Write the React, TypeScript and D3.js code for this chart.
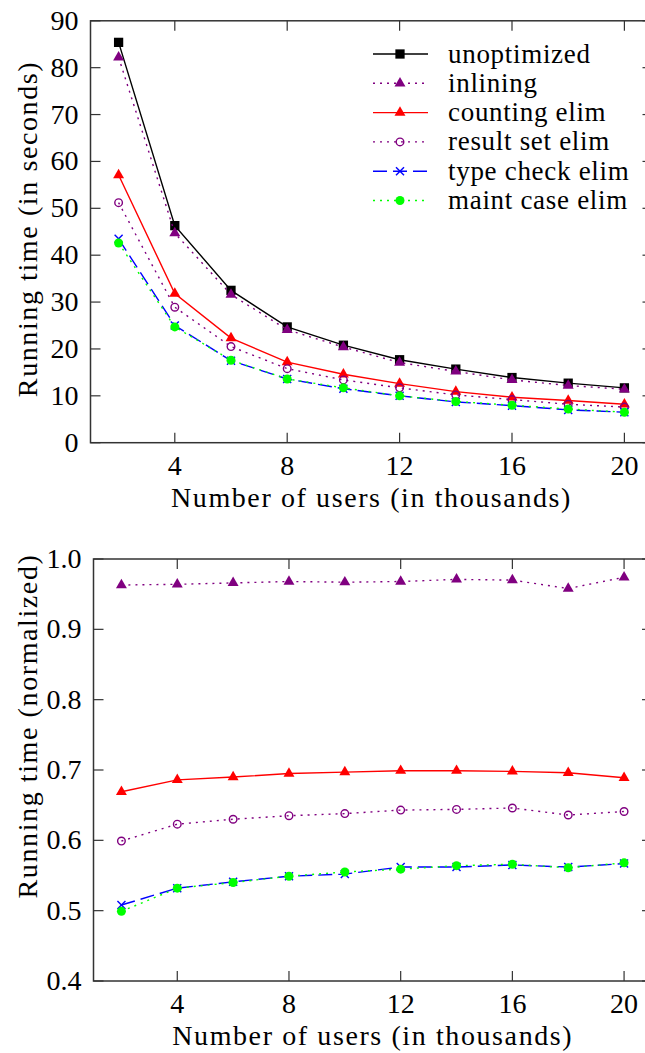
import React from 'react'
import * as d3 from 'd3'

// x values (thousands of users)
const users = [2, 4, 6, 8, 10, 12, 14, 16, 18, 20]

// running time in seconds
const secUnoptimized = [85.4, 46.3, 32.5, 24.7, 20.8, 17.7, 15.7, 13.9, 12.7, 11.7]
const secInlining = [82.2, 44.7, 31.6, 24.1, 20.4, 17.1, 15.2, 13.4, 12.2, 11.4]
const secCounting = [57.1, 31.8, 22.3, 17.2, 14.6, 12.6, 10.9, 9.7, 9.0, 8.2]
const secResultSet = [51.2, 28.9, 20.5, 15.8, 13.4, 11.7, 10.2, 9.2, 8.2, 7.6]
const secTypeCheck = [43.5, 25.0, 17.5, 13.6, 11.5, 10.0, 8.7, 7.9, 7.0, 6.5]
const secMaintCase = [42.6, 24.7, 17.6, 13.6, 11.7, 10.0, 8.8, 8.0, 7.2, 6.5]

// normalized running time
const normInlining = [0.963, 0.964, 0.966, 0.968, 0.967, 0.968, 0.971, 0.97, 0.958, 0.974]
const normCounting = [0.669, 0.686, 0.69, 0.695, 0.697, 0.699, 0.699, 0.698, 0.696, 0.689]
const normResultSet = [0.599, 0.623, 0.63, 0.635, 0.638, 0.643, 0.644, 0.646, 0.636, 0.641]
const normTypeCheck = [0.508, 0.532, 0.541, 0.549, 0.552, 0.562, 0.562, 0.565, 0.562, 0.567]
const normMaintCase = [0.499, 0.532, 0.54, 0.549, 0.555, 0.559, 0.564, 0.566, 0.561, 0.568]

const xTicks = [4, 8, 12, 16, 20]
const yTicksTop = [0, 10, 20, 30, 40, 50, 60, 70, 80, 90]
const yTicksBottom = [0.4, 0.5, 0.6, 0.7, 0.8, 0.9, 1.0]

type Marker = 'square' | 'triangle' | 'openCircle' | 'cross' | 'dot'
interface Style {
    name: string
    color: string
    dash: string | null
    marker: Marker
}

const styles: Record<string, Style> = {
    unopt: { name: 'unoptimized', color: '#000000', dash: null, marker: 'square' },
    inline: { name: 'inlining', color: '#800080', dash: '2,5', marker: 'triangle' },
    count: { name: 'counting elim', color: '#ff0000', dash: null, marker: 'triangle' },
    result: { name: 'result set elim', color: '#800080', dash: '2,5', marker: 'openCircle' },
    type: { name: 'type check elim', color: '#0000ff', dash: '14,6', marker: 'cross' },
    maint: { name: 'maint case elim', color: '#00ff00', dash: '2,5', marker: 'dot' },
}

// serif first, whatever the sandbox has
const FONT = "'Liberation Serif', 'Times New Roman', Times, Tinos, 'Noto Serif', 'DejaVu Serif', serif"
const FRAME = '#333333'
const txt = { fontFamily: FONT }

const sq = d3.symbol(d3.symbolSquare, 86)()
const tri = d3.symbol(d3.symbolTriangle, 52)()

function MarkerShape({ kind, color, x, y }: { kind: Marker; color: string; x: number; y: number }) {
    const t = `translate(${x},${y})`
    if (kind === 'square') return <path d={sq!} transform={t} fill={color} />
    if (kind === 'triangle') return <path d={tri!} transform={t} fill={color} />
    if (kind === 'openCircle')
        return <circle cx={x} cy={y} r={3.8} fill="none" stroke={color} strokeWidth={1.4} />
    if (kind === 'dot') return <circle cx={x} cy={y} r={4.5} fill={color} />
    return (
        <g stroke={color} strokeWidth={1.4}>
            <line x1={x - 4} y1={y - 4} x2={x + 4} y2={y + 4} />
            <line x1={x - 4} y1={y + 4} x2={x + 4} y2={y - 4} />
        </g>
    )
}

interface PanelProps {
    series: { style: Style; values: number[] }[]
    yDomain: [number, number]
    yTicks: number[]
    yFormat: (v: number) => string
    left: number
    right: number
    top: number
    bottom: number
    yTitle: string
    yTitleCenter: number
}

function Panel({ series, yDomain, yTicks, yFormat, left, right, top, bottom, yTitle, yTitleCenter }: PanelProps) {
    const x = d3.scaleLinear().domain([1, 21]).range([left, right])
    const y = d3.scaleLinear().domain(yDomain).range([bottom, top])
    const line = d3
        .line<number>()
        .x((_, i) => x(users[i]))
        .y((d) => y(d))
    const tickLen = 10

    return (
        <g>
            {/* frame */}
            <rect x={left} y={top} width={right - left} height={bottom - top} fill="none" stroke={FRAME} strokeWidth={1.5} />
            {yTicks.map((t) => (
                <g key={'y' + t} stroke={FRAME} strokeWidth={1.2}>
                    <line x1={left} x2={left + tickLen} y1={y(t)} y2={y(t)} />
                    <line x1={right} x2={right - tickLen} y1={y(t)} y2={y(t)} />
                </g>
            ))}
            {xTicks.map((t) => (
                <g key={'x' + t} stroke={FRAME} strokeWidth={1.2}>
                    <line x1={x(t)} x2={x(t)} y1={bottom} y2={bottom - tickLen} />
                    <line x1={x(t)} x2={x(t)} y1={top} y2={top + tickLen} />
                </g>
            ))}
            {/* tick labels */}
            {yTicks.map((t) => (
                <text key={'yl' + t} x={left - 12} y={y(t) + 9} textAnchor="end" fontSize={28} style={txt}>
                    {yFormat(t)}
                </text>
            ))}
            {xTicks.map((t) => (
                <text key={'xl' + t} x={x(t)} y={bottom + 32} textAnchor="middle" fontSize={28} style={txt}>
                    {t}
                </text>
            ))}
            <text
                x={(left + right) / 2}
                y={bottom + 64}
                textAnchor="middle"
                fontSize={28}
                letterSpacing={1.6}
                style={txt}
            >
                Number of users (in thousands)
            </text>
            <text
                transform={`translate(37,${yTitleCenter}) rotate(-90)`}
                textAnchor="middle"
                fontSize={28}
                letterSpacing={1.6}
                style={txt}
            >
                {yTitle}
            </text>
            {/* series */}
            {series.map(({ style, values }) => (
                <g key={style.name}>
                    <path
                        d={line(values)!}
                        fill="none"
                        stroke={style.color}
                        strokeWidth={1.4}
                        strokeDasharray={style.dash ?? undefined}
                    />
                    {values.map((v, i) => (
                        <MarkerShape key={i} kind={style.marker} color={style.color} x={x(users[i])} y={y(v)} />
                    ))}
                </g>
            ))}
        </g>
    )
}

function Legend({ items }: { items: Style[] }) {
    const x0 = 373
    const x1 = 428
    const rowY = d3.scaleLinear().domain([0, 1]).range([54, 83.3])
    return (
        <g>
            {items.map((s, i) => {
                const cy = rowY(i)
                return (
                    <g key={s.name}>
                        <line
                            x1={x0}
                            x2={x1}
                            y1={cy}
                            y2={cy}
                            stroke={s.color}
                            strokeWidth={1.4}
                            strokeDasharray={s.dash ?? undefined}
                        />
                        <MarkerShape kind={s.marker} color={s.color} x={400} y={cy} />
                        <text x={448} y={cy + 8.5} fontSize={27} letterSpacing={0.7} style={txt}>
                            {s.name}
                        </text>
                    </g>
                )
            })}
        </g>
    )
}

export default function App() {
    const topSeries = [
        { style: styles.unopt, values: secUnoptimized },
        { style: styles.inline, values: secInlining },
        { style: styles.count, values: secCounting },
        { style: styles.result, values: secResultSet },
        { style: styles.type, values: secTypeCheck },
        { style: styles.maint, values: secMaintCase },
    ]
    const bottomSeries = [
        { style: styles.inline, values: normInlining },
        { style: styles.count, values: normCounting },
        { style: styles.result, values: normResultSet },
        { style: styles.type, values: normTypeCheck },
        { style: styles.maint, values: normMaintCase },
    ]

    return (
        <svg
            width={645}
            height={1053}
            style={{ position: 'absolute', left: 0, top: 0, background: '#fff' }}
        >
            <rect width={645} height={1053} fill="#fff" />
            <Panel
                series={topSeries}
                yDomain={[0, 90]}
                yTicks={yTicksTop}
                yFormat={(v) => String(v)}
                left={90.5}
                right={652.5}
                top={20.8}
                bottom={442.7}
                yTitle="Running time (in seconds)"
                yTitleCenter={229}
            />
            <Legend items={Object.values(styles)} />
            <Panel
                series={bottomSeries}
                yDomain={[0.4, 1.0]}
                yTicks={yTicksBottom}
                yFormat={(v) => v.toFixed(1)}
                left={93.5}
                right={652}
                top={559}
                bottom={981}
                yTitle="Running time (normalized)"
                yTitleCenter={726}
            />
        </svg>
    )
}
